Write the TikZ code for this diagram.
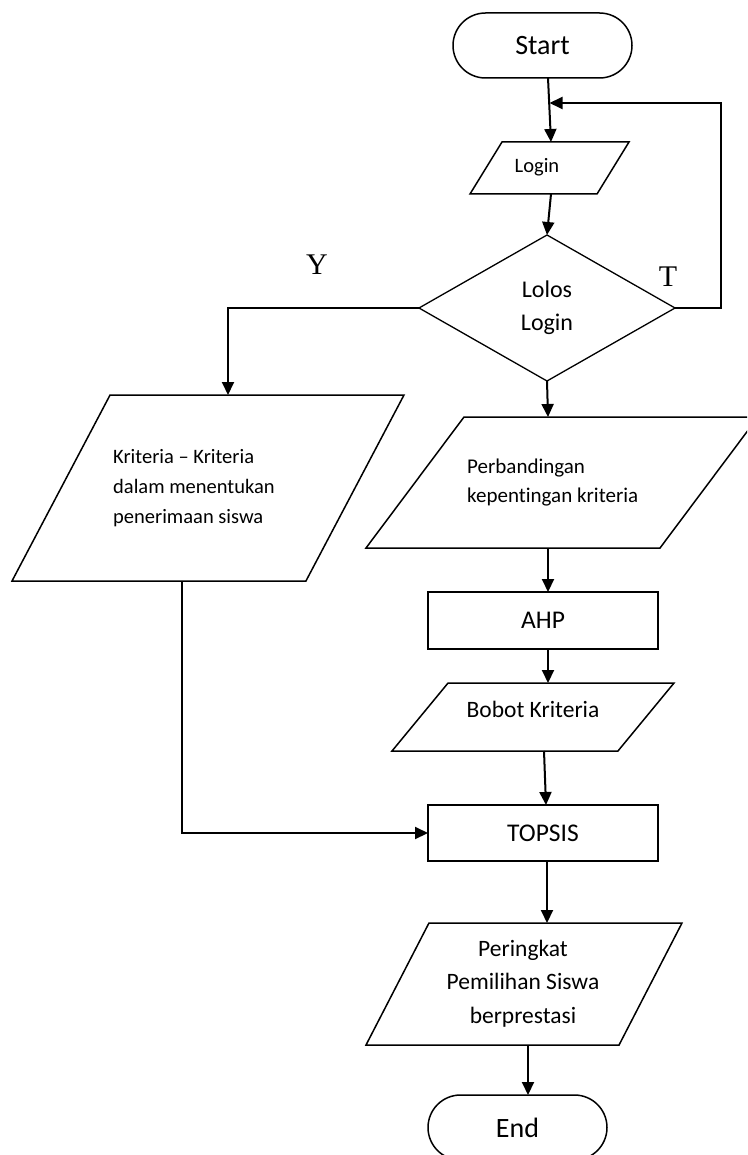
\documentclass[tikz,border=0pt]{standalone}
\usepackage{fontspec}
\setmainfont{Carlito}[Ligatures={TeX,NoCommon}]
\newfontfamily\timesfont{Liberation Serif}
\usetikzlibrary{shapes.geometric, shapes.misc, calc, arrows.meta}

\tikzset{
  terminal/.style={rounded rectangle, draw, line width=1.5pt, minimum width=179pt, minimum height=65pt, inner sep=0pt, outer sep=0pt, font=\fontsize{28}{34}\selectfont},
  process/.style={rectangle, draw, line width=1.6pt, minimum width=230pt, inner sep=0pt, outer sep=0pt, font=\fontsize{25.5}{30}\selectfont},
  io/.style={trapezium, trapezium stretches body, draw, line width=1.5pt, inner xsep=0pt, outer sep=0pt},
  decision/.style={diamond, draw, line width=1.3pt, inner sep=0pt, outer sep=0pt},
  arr/.style={-{Triangle[length=13pt,width=12pt]}, line width=2pt},
  txt/.style={inner sep=0pt},
  branch/.style={inner sep=0pt, font=\timesfont\fontsize{30}{30}\selectfont}
}

\begin{document}
\begin{tikzpicture}[x=1pt, y=-1pt]
        \useasboundingbox[fill=white] (0,0) rectangle (747,1155);
        \clip (0,0) rectangle (747,1155);
        \node[terminal] (start) at (542.5,45.5) {Start};
        \coordinate (merge) at (549.5,103);
        \node[io, trapezium left angle=58.4, trapezium right angle=121.6, minimum width=159pt, inner ysep=26pt] (login) at (549.5,168) {};
        \node[txt, font=\fontsize{20.5}{24}\selectfont] (logintxt) at (537,167) {Login};
        \node[decision, minimum width=256pt, minimum height=146pt, align=center, font=\fontsize{24}{33}\selectfont] (lolos) at (547,308) {Lolos\\Login};
        \node[branch] (ylabel) at (317,265) {Y};
        \node[branch] (tlabel) at (668,277) {T};
        \node[io, trapezium left angle=62.2, trapezium right angle=117.8, minimum width=392pt, inner ysep=93pt] (kriteria) at (208,488) {};
        \node[txt, anchor=west, align=left, font=\fontsize{20.5}{30}\selectfont] (kriteriatxt) at (113,488) {Kriteria – Kriteria\\dalam menentukan\\penerimaan siswa};
        \node[io, trapezium left angle=53.2, trapezium right angle=126.8, minimum width=392pt, inner ysep=65.5pt] (perb) at (562,482.5) {};
        \node[txt, anchor=west, align=left, font=\fontsize{21}{29}\selectfont] (perbtxt) at (467,482.5) {Perbandingan\\kepentingan kriteria};
        \node[process, minimum height=57pt] (ahp) at (543,620.5) {AHP};
        \node[io, trapezium left angle=50.5, trapezium right angle=129.5, minimum width=282pt, inner ysep=34pt] (bobot) at (533,717) {};
        \node[txt, font=\fontsize{23.5}{28}\selectfont] (bobottxt) at (533,709) {Bobot Kriteria};
        \node[process, minimum height=56pt] (topsis) at (543,833) {TOPSIS};
        \node[io, trapezium left angle=62.7, trapezium right angle=117.3, minimum width=316pt, inner ysep=61pt] (pering) at (524,984) {};
        \node[txt, align=center, font=\fontsize{23.5}{33.5}\selectfont] (peringtxt) at (523,983.5) {Peringkat\\Pemilihan Siswa\\berprestasi};
        \node[terminal] (stop) at (517.5,1127.5) {End};
        \draw[arr] ($(start.south)+(5.5,0)$) -- ($(login.center)+(1.5,-26)$);
        \draw[arr] ($(login.center)+(1.5,26)$) -- (lolos.north);
        \draw[arr] (lolos.east) -- ++(46,0) |- (merge);
        \draw[arr] (lolos.west) -| ($(kriteria.center)+(20,-93)$);
        \draw[arr] (lolos.south) -- ($(perb.center)+(-14,-65.5)$);
        \draw[arr] ($(perb.center)+(-14,65.5)$) -- ($(ahp.north)+(5,0)$);
        \draw[arr] ($(ahp.south)+(5,0)$) -- ($(bobot.center)+(15,-34)$);
        \draw[arr] ($(bobot.center)+(11,34)$) -- ($(topsis.north)+(3,0)$);
        \draw[arr] ($(kriteria.center)+(-26,93)$) |- (topsis.west);
        \draw[arr] ($(topsis.south)+(4,0)$) -- ($(pering.center)+(23,-61)$);
        \draw[arr] ($(pering.center)+(4,61)$) -- ($(stop.north)+(10.5,0)$);
\end{tikzpicture}
\end{document}
